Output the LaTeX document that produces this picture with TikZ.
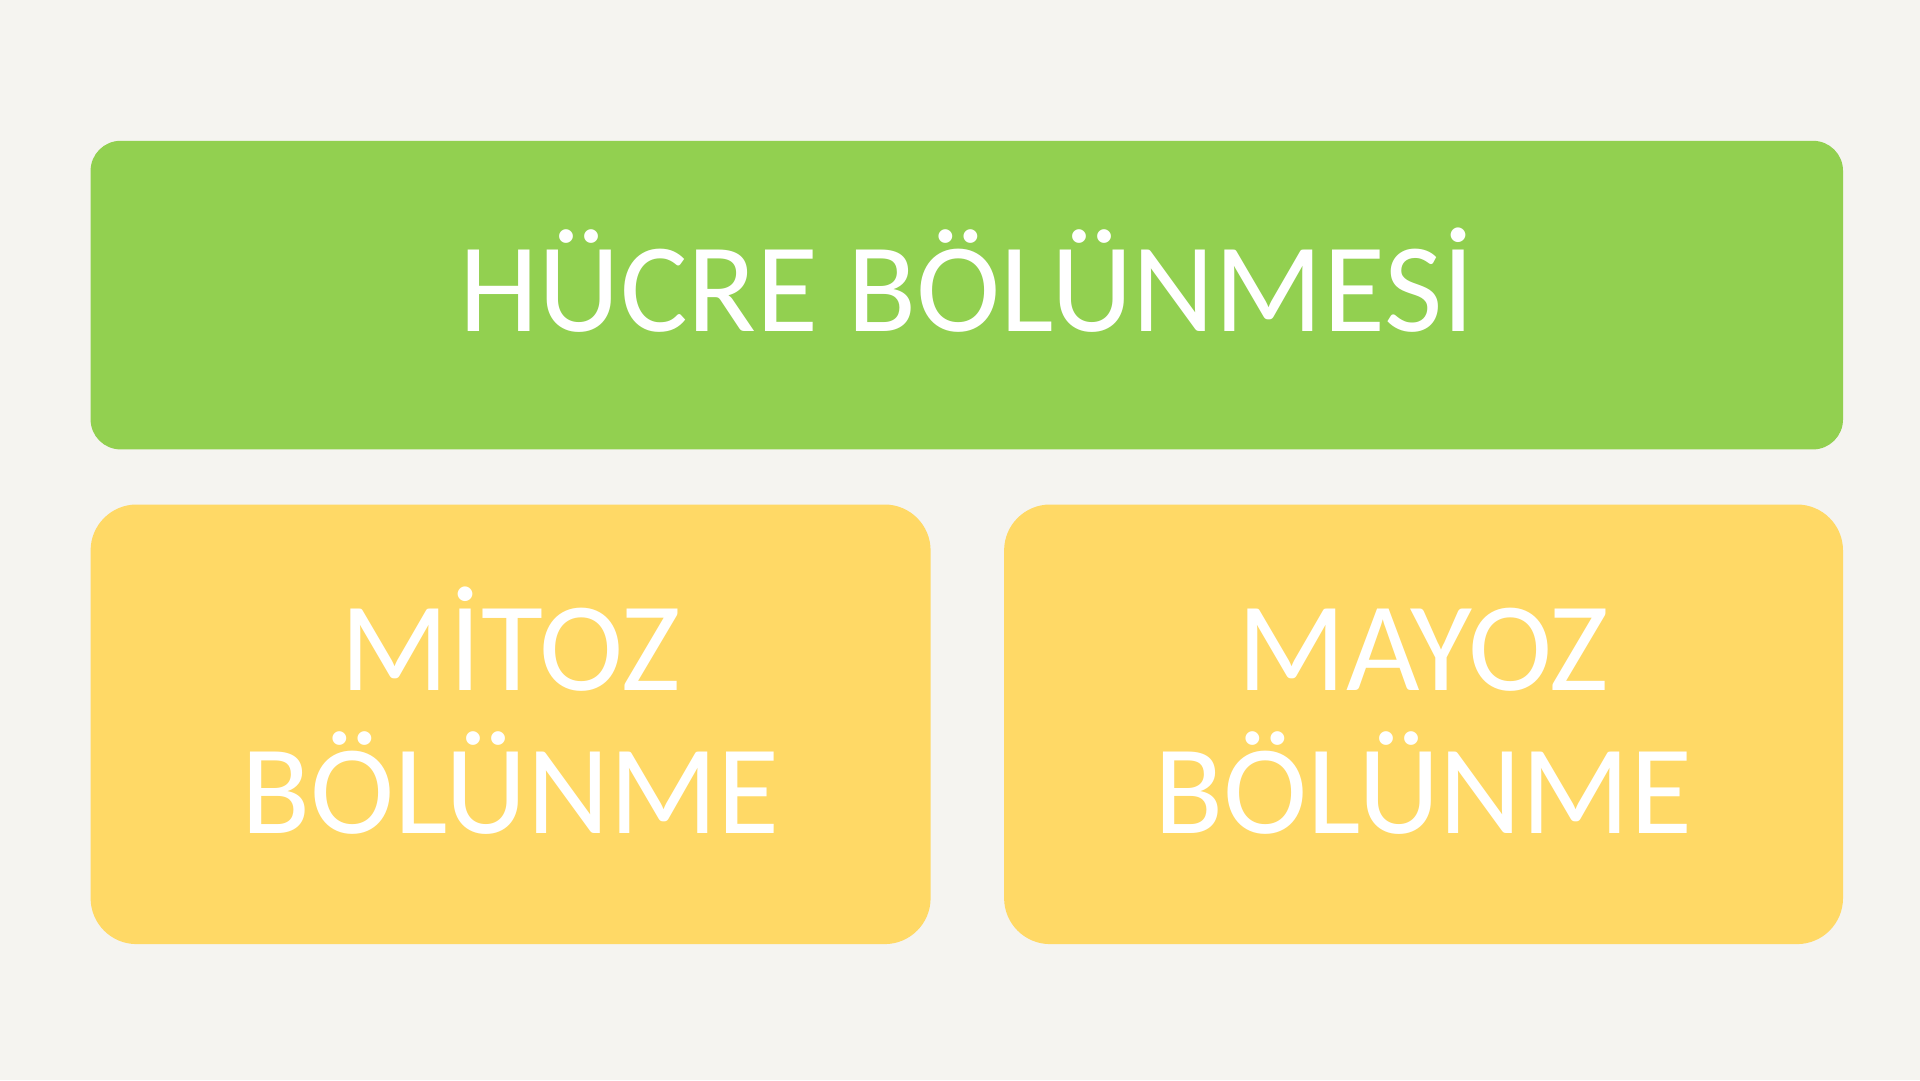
\documentclass[tikz,border=0pt]{standalone}
\usepackage{fontspec}
\setmainfont{Carlito}
\definecolor{bgpaper}{HTML}{F5F4F0}
\definecolor{boxgreen}{HTML}{92D050}
\definecolor{boxyellow}{HTML}{FFD966}
\tikzset{
  greenbox/.style={fill=boxgreen, draw=none, rounded corners=30pt},
  yellowbox/.style={fill=boxyellow, draw=none, rounded corners=46pt},
  bigtext/.style={text=white, font=\fontsize{127}{143}\selectfont, inner sep=0pt, align=center},
}
\begin{document}
\begin{tikzpicture}[x=1pt,y=-1pt]
  \fill[bgpaper] (0,0) rectangle (1920,1080);
  \useasboundingbox (0,0) rectangle (1920,1080);
  \path[greenbox] (90.6,140.8) rectangle (1843,449.4);
  \path[yellowbox] (90.6,504.5) rectangle (930.6,944.1);
  \path[yellowbox] (1004.1,504.5) rectangle (1843,944.1);
  \node[bigtext, anchor=base] (top) at (967,331.8) {HÜCRE BÖLÜNMESİ};
  \node[bigtext, anchor=base] (mitoz) at (510.6,833.9) {MİTOZ\\BÖLÜNME};
  \node[bigtext, anchor=base] (mayoz) at (1423.5,833.9) {MAYOZ\\BÖLÜNME};
\end{tikzpicture}
\end{document}
